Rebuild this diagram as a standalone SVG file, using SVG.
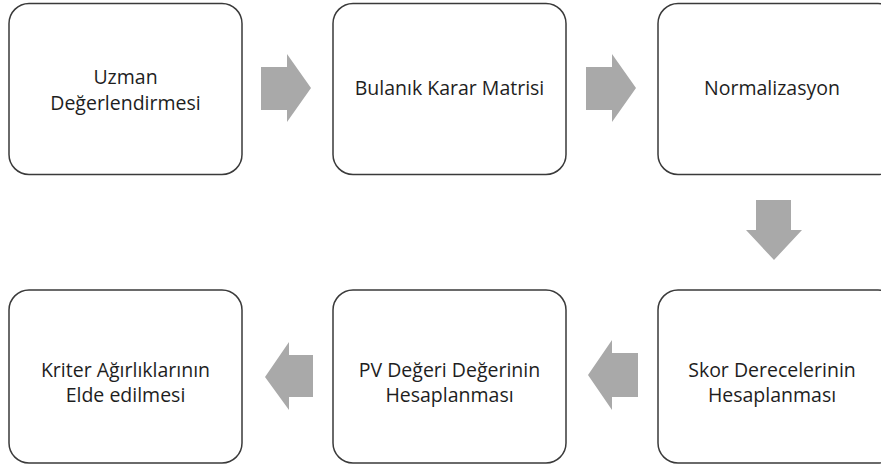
<svg xmlns="http://www.w3.org/2000/svg" width="881" height="468" viewBox="0 0 881 468">
<style>
.box{fill:#fff;stroke:#3a3a3a;stroke-width:1.5}
.t{font-family:"Open Sans","Liberation Sans",sans-serif;font-size:19.5px;fill:#1e1e1e;text-anchor:middle}
.arr{fill:#a9a9a9}
</style>
<rect width="881" height="468" fill="#fff"/>
<g id="n1"><rect class="box" x="9" y="3.5" width="233" height="171" rx="20"/><text class="t" x="125.5" y="84">Uzman</text><text class="t" x="125.5" y="110">Değerlendirmesi</text></g>
<g id="n2"><rect class="box" x="333" y="3.5" width="233" height="171" rx="20"/><text class="t" x="449.5" y="95">Bulanık Karar Matrisi</text></g>
<g id="n3"><rect class="box" x="658" y="3.5" width="240" height="171" rx="20"/><text class="t" x="772" y="95">Normalizasyon</text></g>
<g id="n4"><rect class="box" x="658" y="290" width="240" height="173" rx="20"/><text class="t" x="772" y="377">Skor Derecelerinin</text><text class="t" x="772" y="402">Hesaplanması</text></g>
<g id="n5"><rect class="box" x="333" y="290" width="233" height="173" rx="20"/><text class="t" x="449.5" y="377">PV Değeri Değerinin</text><text class="t" x="449.5" y="402">Hesaplanması</text></g>
<g id="n6"><rect class="box" x="9" y="290" width="233" height="173" rx="20"/><text class="t" x="125.5" y="377">Kriter Ağırlıklarının</text><text class="t" x="125.5" y="402">Elde edilmesi</text></g>
<g id="connectors">
<polygon class="arr" points="261,67 287,67 287,54 311,88 287,122 287,110 261,110"/>
<polygon class="arr" points="586,67 612,67 612,54 636,88 612,122 612,110 586,110"/>
<polygon class="arr" points="756,200 791,200 791,230 802,230 774,260 746,230 756,230"/>
<polygon class="arr" points="638,353 612,353 612,340 588,375 612,410 612,397 638,397"/>
<polygon class="arr" points="313,355 289,355 289,342 265,377 289,410 289,397 313,397"/>
</g>
</svg>
